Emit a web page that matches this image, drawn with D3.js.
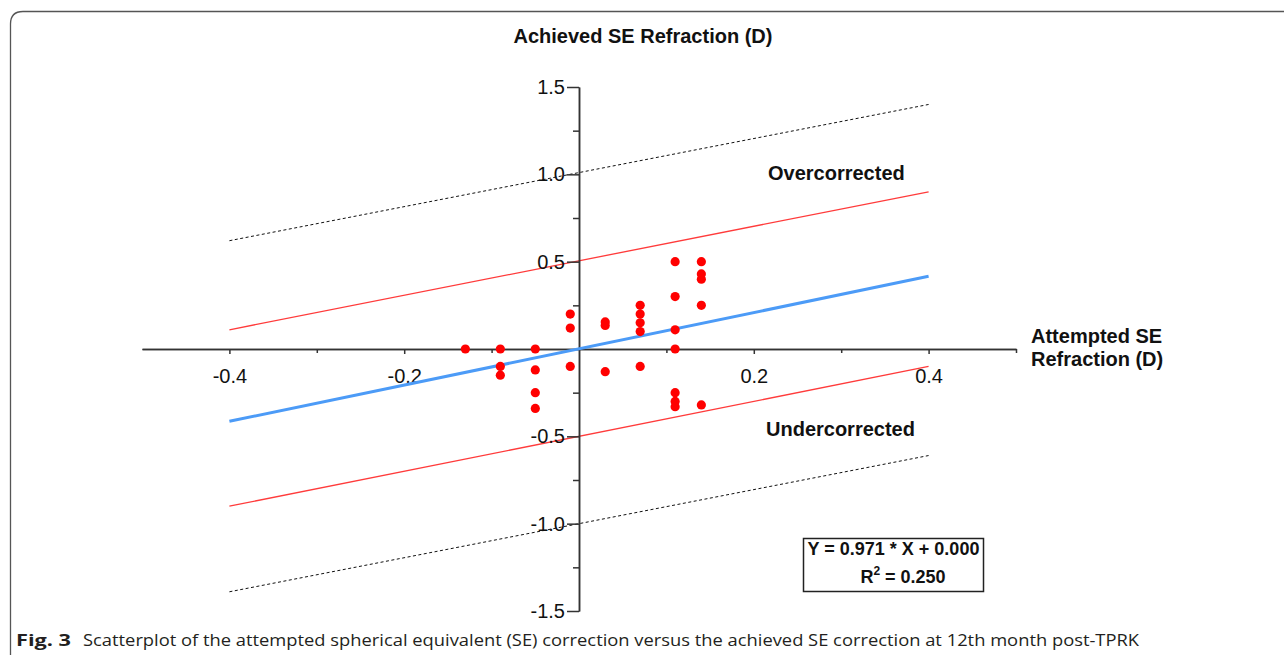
<!DOCTYPE html>
<html>
<head>
<meta charset="utf-8">
<script src="https://cdn.jsdelivr.net/npm/d3@7"></script>
<style>
  html, body { margin: 0; padding: 0; background: #fff; }
  svg { display: block; }
  text { font-family: "Liberation Sans", Arial, sans-serif; fill: #111; }
  text.caption { font-family: "Open Sans", "Noto Sans", sans-serif; fill: #231f20; }
</style>
</head>
<body>
<div id="chart"></div>
<script>
// values
const attempted = [
  -0.13,
  -0.09, -0.09, -0.09,
  -0.05, -0.05, -0.05, -0.05,
  -0.01, -0.01, -0.01,
  0.03, 0.03, 0.03,
  0.07, 0.07, 0.07, 0.07, 0.07,
  0.11, 0.11, 0.11, 0.11, 0.11, 0.11, 0.11,
  0.14, 0.14, 0.14, 0.14, 0.14
];
const achieved = [
  0,
  0, -0.10, -0.15,
  0, -0.12, -0.25, -0.34,
  0.20, 0.12, -0.10,
  0.155, 0.135, -0.13,
  0.25, 0.20, 0.15, 0.10, -0.10,
  0.50, 0.30, 0.11, 0, -0.25, -0.30, -0.33,
  0.50, 0.43, 0.40, 0.25, -0.32
];

const lineX = [-0.4, 0.4];
const fitY = [-0.414, 0.416];
const upperRedY = [0.11, 0.90];
const lowerRedY = [-0.90, -0.10];
const upperDotY = [0.62, 1.40];
const lowerDotY = [-1.39, -0.61];

const xTicks = [-0.4, -0.2, 0.2, 0.4];
const xMinorTicks = [-0.3, -0.1, 0.1, 0.3, 0.5];
const yTicks = [-1.5, -1.0, -0.5, 0.5, 1.0, 1.5];
const yMinorTicks = [-1.25, -0.75, -0.25, 0.25, 0.75, 1.25];

const width = 1284, height = 655;

const svg = d3.select("#chart").append("svg")
    .attr("width", width)
    .attr("height", height);

// figure frame (open at right / bottom)
svg.append("path")
    .attr("d", "M10.5,660 L10.5,24 Q10.5,11.5 23,11.5 L1290,11.5")
    .attr("fill", "none")
    .attr("stroke", "#555")
    .attr("stroke-width", 1.3);

const x = d3.scaleLinear().domain([-0.5, 0.5]).range([142, 1016]);
const y = d3.scaleLinear().domain([-1.5, 1.5]).range([611, 87]);

const fmt = d => d.toFixed(1);

// reference lines
const line = d3.line().x(d => x(d[0])).y(d => y(d[1]));
const pairs = ys => lineX.map((v, i) => [v, ys[i]]);

[upperDotY, lowerDotY].forEach(ys => {
  svg.append("path")
      .attr("d", line(pairs(ys)))
      .attr("fill", "none")
      .attr("stroke", "#111")
      .attr("stroke-width", 1)
      .attr("stroke-dasharray", "3,2.5");
});

[upperRedY, lowerRedY].forEach(ys => {
  svg.append("path")
      .attr("d", line(pairs(ys)))
      .attr("fill", "none")
      .attr("stroke", "#ff3b3b")
      .attr("stroke-width", 1.3);
});

// axes
const xAxis = svg.append("g")
    .attr("transform", `translate(0,${y(0)})`)
    .call(d3.axisBottom(x).tickValues(xTicks).tickSize(5).tickSizeOuter(0).tickFormat(fmt));
svg.append("g")
    .attr("transform", `translate(0,${y(0)})`)
    .call(d3.axisBottom(x).tickValues(xMinorTicks).tickSize(4).tickSizeOuter(0).tickFormat(""));

const yAxis = svg.append("g")
    .attr("transform", `translate(${x(0)},0)`)
    .call(d3.axisLeft(y).tickValues(yTicks).tickSize(12).tickSizeOuter(0).tickPadding(2).tickFormat(fmt));
svg.append("g")
    .attr("transform", `translate(${x(0)},0)`)
    .call(d3.axisLeft(y).tickValues(yMinorTicks).tickSize(6).tickSizeOuter(0).tickFormat(""));

svg.selectAll(".domain, .tick line")
    .attr("stroke", "#333")
    .attr("stroke-width", 1.5);

xAxis.selectAll("text")
    .attr("font-size", 20)
    .attr("font-family", null)
    .attr("fill", null)
    .attr("dy", null)
    .attr("y", 34);

yAxis.selectAll("text")
    .attr("font-size", 20)
    .attr("font-family", null)
    .attr("fill", null);

// regression line
svg.append("path")
    .attr("d", line(pairs(fitY)))
    .attr("fill", "none")
    .attr("stroke", "#4c9bf7")
    .attr("stroke-width", 3);

// points
svg.append("g").selectAll("circle")
    .data(attempted.map((a, i) => [a, achieved[i]]))
    .enter()
    .append("circle")
    .attr("cx", d => x(d[0]))
    .attr("cy", d => y(d[1]))
    .attr("r", 4.6)
    .attr("fill", "#ff0000");

// labels
svg.append("text")
    .attr("x", 643).attr("y", 43)
    .attr("text-anchor", "middle")
    .attr("font-size", 20).attr("font-weight", "bold")
    .text("Achieved SE Refraction (D)");

svg.append("text")
    .attr("x", 768).attr("y", 180)
    .attr("font-size", 20).attr("font-weight", "bold")
    .text("Overcorrected");

svg.append("text")
    .attr("x", 766).attr("y", 436)
    .attr("font-size", 20).attr("font-weight", "bold")
    .text("Undercorrected");

svg.append("text")
    .attr("x", 1031).attr("y", 343)
    .attr("font-size", 20).attr("font-weight", "bold")
    .text("Attempted SE");
svg.append("text")
    .attr("x", 1031).attr("y", 366)
    .attr("font-size", 20).attr("font-weight", "bold")
    .text("Refraction (D)");

// equation box
svg.append("rect")
    .attr("x", 803.5).attr("y", 538.5)
    .attr("width", 180).attr("height", 53)
    .attr("fill", "#fff")
    .attr("stroke", "#222")
    .attr("stroke-width", 1.5);

svg.append("text")
    .attr("x", 893.5).attr("y", 555)
    .attr("text-anchor", "middle")
    .attr("font-size", 18).attr("font-weight", "bold")
    .text("Y = 0.971 * X + 0.000");

const r2 = svg.append("text")
    .attr("x", 903).attr("y", 583)
    .attr("text-anchor", "middle")
    .attr("font-size", 18).attr("font-weight", "bold");
r2.append("tspan").text("R");
r2.append("tspan").attr("font-size", 12).attr("dy", -8).text("2");
r2.append("tspan").attr("dy", 8).text(" = 0.250");

// caption
svg.append("text")
    .attr("class", "caption")
    .attr("x", 16).attr("y", 646)
    .attr("font-size", 16.5).attr("font-weight", "bold")
    .attr("textLength", 55).attr("lengthAdjust", "spacingAndGlyphs")
    .text("Fig. 3");

svg.append("text")
    .attr("class", "caption")
    .attr("x", 83).attr("y", 646)
    .attr("font-size", 16.5)
    .attr("textLength", 1056).attr("lengthAdjust", "spacingAndGlyphs")
    .text("Scatterplot of the attempted spherical equivalent (SE) correction versus the achieved SE correction at 12th month post-TPRK");
</script>
</body>
</html>
